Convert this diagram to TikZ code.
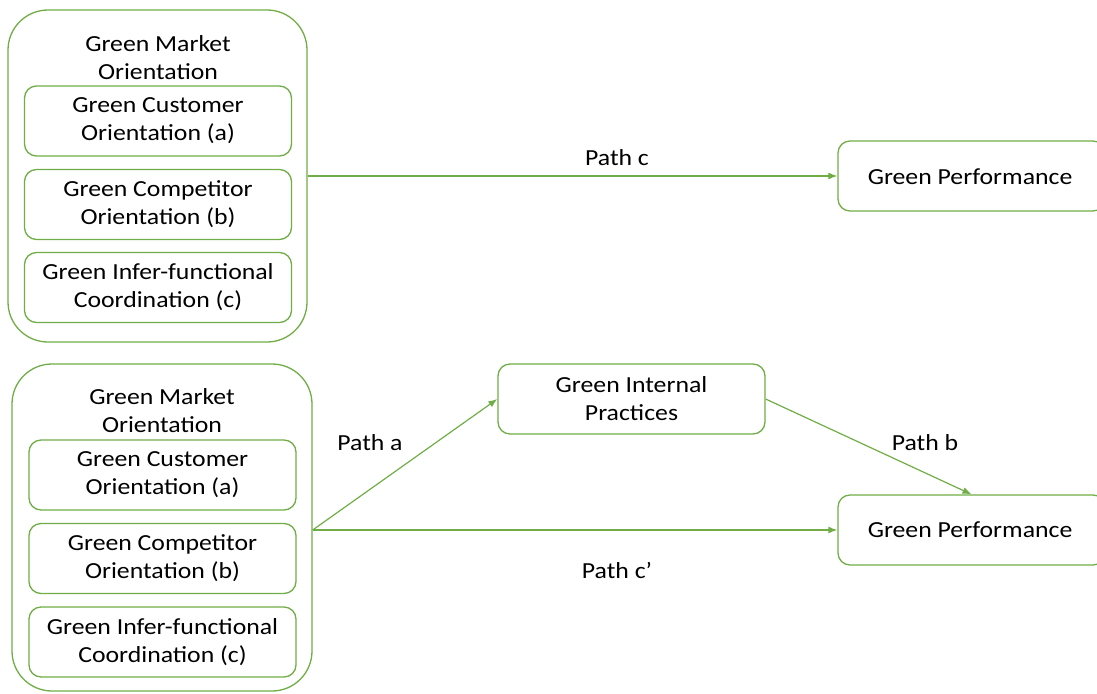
\documentclass[tikz,border=0pt]{standalone}
\usepackage{fontspec}
\setmainfont{Carlito}[FakeStretch=1.12]
\usetikzlibrary{arrows.meta}
\definecolor{leaf}{HTML}{70AD47}
\begin{document}
\begin{tikzpicture}[x=1pt,y=-1pt,
  every node/.style={font=\fontsize{23}{28}\selectfont, align=center, inner sep=0pt},
  outerbox/.style={draw=leaf, line width=1.3pt, rounded corners=40pt},
  innerbox/.style={draw=leaf, line width=1.3pt, rounded corners=12pt, minimum width=267pt, minimum height=70pt},
  resultbox/.style={draw=leaf, line width=1.3pt, rounded corners=12pt, minimum height=70pt},
  link/.style={draw=leaf, line width=1.2pt, -{Latex[length=9pt,width=7pt]}},
  lbl/.style={anchor=center}]
\useasboundingbox (0,0) rectangle (1097,693);

% upper model: direct effect only
\node[outerbox, minimum width=299pt, minimum height=332pt] (gmoA) at (157.5,176) {};
\node (gmoAt) at (158,58) {Green Market\\Orientation};
\node[innerbox] (custA) at (158,121) {Green Customer\\Orientation (a)};
\node[innerbox] (compA) at (158,204.5) {Green Competitor\\Orientation (b)};
\node[innerbox] (coorA) at (158,287.5) {Green Infer-functional\\Coordination (c)};
\node[resultbox, minimum width=267pt] (perfA) at (971.5,176) {};
\node (perfAt) at (970,177) {Green Performance};
\draw[link] (gmoA.east) -- (perfA.west);
\node[lbl] (pc) at (617,158) {Path c};

% lower model: mediated through internal practices
\node[outerbox, minimum width=300pt, minimum height=327pt] (gmoB) at (162,527.5) {};
\node (gmoBt) at (162,411) {Green Market\\Orientation};
\node[innerbox] (custB) at (162.5,475) {Green Customer\\Orientation (a)};
\node[innerbox] (compB) at (162.5,558.5) {Green Competitor\\Orientation (b)};
\node[innerbox] (coorB) at (162.5,642) {Green Infer-functional\\Coordination (c)};
\node[resultbox, minimum width=267pt] (gip) at (631.5,399) {Green Internal\\Practices};
\node[resultbox, minimum width=267pt] (perfB) at (971.5,530) {};
\node (perfBt) at (970,530) {Green Performance};
\coordinate (split) at (gmoB.east |- perfB.west);
\draw[link] (split) -- (perfB.west);
\draw[link] (split) -- (gip.west);
\draw[link] (gip.east) -- (perfB.north);
\node[lbl] (pa) at (370,443) {Path a};
\node[lbl] (pb) at (925,443) {Path b};
\node[lbl] (pcp) at (617,570) {Path c’};
\end{tikzpicture}
\end{document}
